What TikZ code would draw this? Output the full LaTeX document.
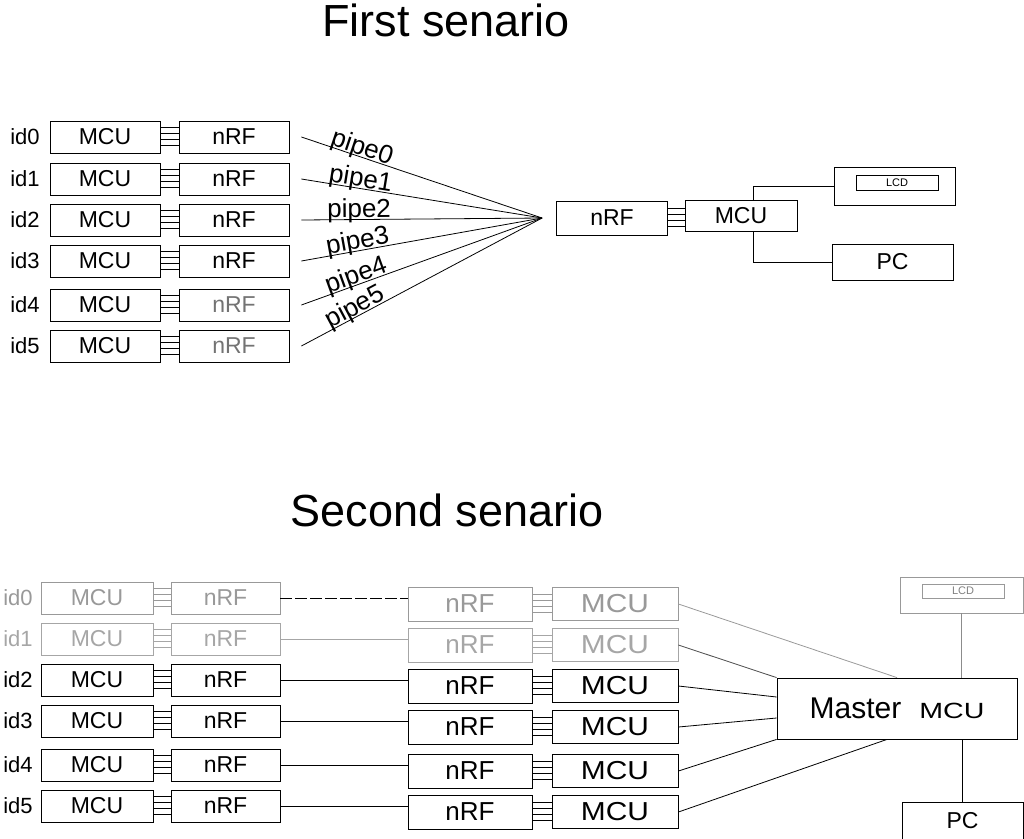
\documentclass[tikz,border=0pt]{standalone}
\usepackage{fontspec}
\setmainfont{Liberation Sans}
\usetikzlibrary{calc}
\tikzset{
  blk/.style={draw, inner sep=0pt, minimum height=32pt, font=\fontsize{23}{27}\selectfont},
  bigblk/.style={draw, inner sep=0pt, minimum height=34pt, font=\fontsize{26}{30}\selectfont},
  idlbl/.style={inner sep=0pt, font=\fontsize{22}{26}\selectfont},
  pipelbl/.style={inner sep=0pt, sloped, above=-4pt, font=\fontsize{26}{30}\selectfont},
  ttl/.style={inner sep=0pt, font=\fontsize{45}{54}\selectfont},
  lcdlbl/.style={draw, inner sep=0pt, minimum width=82pt, minimum height=15pt, font=\fontsize{11}{13}\selectfont},
}
\newcommand{\bus}[3][black]{\foreach \o in {10,4,-2,-8}{\draw[color=#1] ([yshift=\o pt]#2.east) -- ([yshift=\o pt]#2.east -| #3.west);}}
\newcommand{\wide}[1]{\scalebox{1.15}[1]{#1}}

\begin{document}
\begin{tikzpicture}[x=1pt,y=-1pt,line width=0.8pt]
\useasboundingbox (0,0) rectangle (1024,838);

\node[ttl] (t1) at (446,20) {First senario};
\foreach \i/\y/\c in {0/137/black,1/179/black,2/220/black,3/261/black,4/305/black!55,5/346/black!55}{
  \node[idlbl] (ida\i) at (25,\y) {id\i};
  \node[blk, minimum width=110pt] (ma\i) at (105,\y) {MCU};
  \node[blk, minimum width=110pt, text=\c] (na\i) at (234,\y) {nRF};
  \bus{ma\i}{na\i}
}
\node[blk, minimum width=111pt, minimum height=34pt] (nb) at (612,218) {nRF};
\node[blk, minimum width=112pt, minimum height=31pt] (mb) at (741,216) {MCU};
\bus{nb}{mb}
\node[draw, minimum width=121pt, minimum height=38pt] (lcdb) at (894.5,186) {};
\node[lcdlbl] (lcda) at (897,182.5) {LCD};
\node[blk, minimum width=121pt, minimum height=36pt] (pcb) at (892.5,262) {PC};
\draw ([xshift=12pt]mb.north) |- (lcdb.west);
\draw ([xshift=12pt]mb.south) |- (pcb.west);
\coordinate (hub) at ([xshift=-14pt]nb.west);
\foreach \i in {0,...,5}
  \draw ([xshift=12pt]na\i.east) -- (hub) node[pipelbl, pos=0.24] {pipe\i};

\node[ttl] (t2) at (447,510) {Second senario};
\node[draw, inner sep=0pt, minimum width=240pt, minimum height=61pt] (ms) at (897,708.5)
  {\fontsize{30}{36}\selectfont Master\hspace{18pt}\scalebox{1.3}[1]{\fontsize{22}{26}\selectfont MCU}};
\foreach \i/\y/\z/\c in {0/598/604/black!40,1/639/645/black!35,2/680/686/black,3/721/727/black,4/765/771/black,5/806/812/black}{
  \node[idlbl, text=\c] (idc\i) at (18,\y) {id\i};
  \node[blk, draw=\c, text=\c, minimum width=112pt] (mc\i) at (97,\y) {MCU};
  \node[blk, draw=\c, text=\c, minimum width=109pt] (nc\i) at (225.5,\y) {nRF};
  \bus[\c]{mc\i}{nc\i}
  \node[bigblk, draw=\c, text=\c, minimum width=124pt] (nd\i) at (470,\z) {nRF};
  \node[bigblk, draw=\c, text=\c, minimum width=126pt, minimum height=33pt] (md\i) at (615,\z) {\wide{MCU}};
  \bus[\c]{nd\i}{md\i}
}
\draw[dash pattern=on 12pt off 3pt] (nc0.east) -- (nc0.east -| nd0.west);
\foreach \i/\c in {1/black!35,2/black,3/black,4/black,5/black}
  \draw[color=\c] (nc\i.east) -- (nc\i.east -| nd\i.west);
\coordinate (ms0) at (ms.north);
\coordinate (ms1) at (ms.north west);
\coordinate (ms2) at ([yshift=11.5pt]ms.west);
\coordinate (ms3) at ([yshift=-9.5pt]ms.west);
\coordinate (ms4) at (ms.south west);
\coordinate (ms5) at ([xshift=-10pt]ms.south);
\foreach \i/\c in {0/black!40,1/black!70,2/black,3/black,4/black,5/black}
  \draw[color=\c] (md\i.east) -- (ms\i);
\node[draw=black!40, minimum width=123pt, minimum height=36pt] (lcdc) at (961.5,595) {};
\node[lcdlbl, draw=black!40, text=black!50, minimum height=14pt] (lcdd) at (963,591) {LCD};
\draw[black!45] (lcdc.south) -- (lcdc.south |- ms.north);
\node[blk, minimum width=121pt, minimum height=38pt] (pcc) at (962.5,821) {PC};
\draw (pcc.north |- ms.south) -- (pcc.north);
\end{tikzpicture}
\end{document}
